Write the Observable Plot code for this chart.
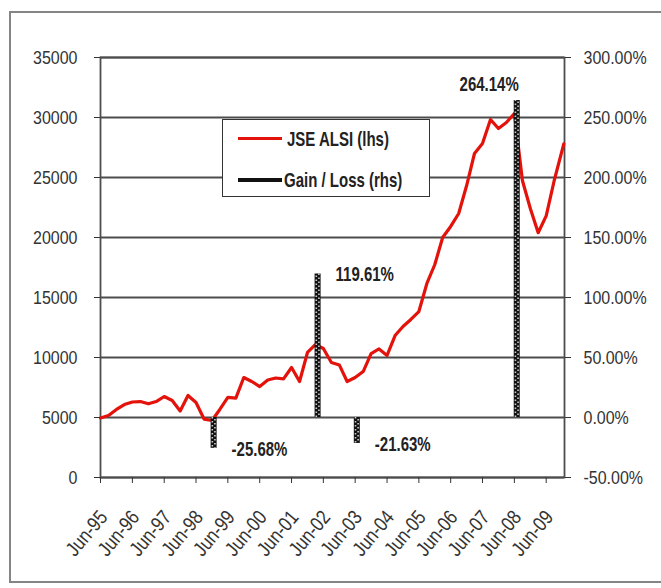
<!DOCTYPE html>
<html><head><meta charset="utf-8">
<script src="https://cdn.jsdelivr.net/npm/d3@7"></script>
<script src="https://cdn.jsdelivr.net/npm/@observablehq/plot@0.6"></script>
<style>
body{margin:0;background:#fff;}
#wrap{position:relative;width:661px;height:588px;overflow:hidden;background:#fff;}
#frame{position:absolute;left:9px;top:11px;width:700px;height:572px;border:2px solid #858585;box-sizing:border-box;}
#chart{position:absolute;left:0;top:0;}
#legend{position:absolute;left:222px;top:119px;width:208px;height:78px;border:1.5px solid #333;background:#fff;box-sizing:border-box;
  font-family:'Liberation Sans',Arial,sans-serif;font-weight:bold;font-size:15px;color:#222;white-space:nowrap;}
.lg{position:absolute;left:15px;display:flex;align-items:center;}
.lg span{display:inline-block;transform:scaleY(1.3);}
.sw{width:44px;height:3px;margin-right:5px;}
</style></head>
<body><div id="wrap"><div id="frame"></div><div id="chart"></div>
<div id="legend">
 <div class="lg" style="top:10px"><div class="sw" style="background:#e3120b"></div><span>JSE ALSI (lhs)</span></div>
 <div class="lg" style="top:51px"><div class="sw" style="background:#111;height:4px;margin-right:2px"></div><span>Gain / Loss (rhs)</span></div>
</div></div>
<script>
const quarterDates = ["1995-06-01","1995-09-01","1995-12-01","1996-03-01","1996-06-01","1996-09-01","1996-12-01","1997-03-01",
"1997-06-01","1997-09-01","1997-12-01","1998-03-01","1998-06-01","1998-09-01","1998-12-01","1999-03-01",
"1999-06-01","1999-09-01","1999-12-01","2000-03-01","2000-06-01","2000-09-01","2000-12-01","2001-03-01",
"2001-06-01","2001-09-01","2001-12-01","2002-03-01","2002-06-01","2002-09-01","2002-12-01","2003-03-01",
"2003-06-01","2003-09-01","2003-12-01","2004-03-01","2004-06-01","2004-09-01","2004-12-01","2005-03-01",
"2005-06-01","2005-09-01","2005-12-01","2006-03-01","2006-06-01","2006-09-01","2006-12-01","2007-03-01",
"2007-06-01","2007-09-01","2007-12-01","2008-03-01","2008-06-01","2008-09-01","2008-12-01","2009-03-01",
"2009-06-01","2009-09-01","2009-12-20"];
const alsiValues = [4960,5170,5670,6080,6290,6330,6140,6330,
6750,6420,5540,6830,6250,4870,4750,5670,
6670,6620,8330,8000,7580,8120,8290,8220,
9170,8000,10420,11080,10750,9580,9380,8000,
8330,8830,10330,10710,10170,11830,12580,13170,
13830,16170,17750,20000,20920,22000,24330,27000,
27830,29830,29080,29580,30330,24750,22420,20400,
21800,24750,27800];
const gainDates = ["1998-12-20","2002-03-27","2003-06-20","2008-06-28"];
const gainPct = [-25.68,119.61,-21.63,264.14];
const gainLabels = ["-25.68%","119.61%","-21.63%","264.14%"];
const leftTicks = [0,5000,10000,15000,20000,25000,30000,35000];
const rightTickLabels = ["-50.00%","0.00%","50.00%","100.00%","150.00%","200.00%","250.00%","300.00%"];
const xTickDates = ["1995-06-01","1996-06-01","1997-06-01","1998-06-01","1999-06-01","2000-06-01","2001-06-01","2002-06-01",
"2003-06-01","2004-06-01","2005-06-01","2006-06-01","2007-06-01","2008-06-01","2009-06-01"];
const xTickLabels = ["Jun-95","Jun-96","Jun-97","Jun-98","Jun-99","Jun-00","Jun-01","Jun-02","Jun-03","Jun-04","Jun-05","Jun-06","Jun-07","Jun-08","Jun-09"];

const series = quarterDates.map((d,i)=>({date:new Date(d), value:alsiValues[i]}));
const gains = gainDates.map((d,i)=>({date:new Date(d), pct:gainPct[i], label:gainLabels[i]}));
const pctToLeft = p => (p + 50) * 100;
const xTicks = xTickDates.map(d=>new Date(d));
const font = "'Liberation Sans',Arial,sans-serif";

const chart = Plot.plot({
  width: 661, height: 588,
  marginTop: 57, marginBottom: 111, marginLeft: 100, marginRight: 97,
  style: {fontFamily: font, fontSize: "16px", color: "#333", background: "transparent"},
  x: {type: "utc", domain: [new Date("1995-06-01"), new Date("2009-12-28")], label: null},
  y: {domain: [0, 35000], label: null},
  marks: [
    Plot.ruleY(leftTicks, {stroke: "#4d4d4d", strokeWidth: 1.8}),
    Plot.frame({stroke: "#4d4d4d", strokeWidth: 1.8}),
    Plot.line(series, {x: "date", y: "value", stroke: "#e3120b", strokeWidth: 3.2}),
    Plot.ruleX(gains, {x: "date", y1: 5000, y2: d => pctToLeft(d.pct), stroke: "#111", strokeWidth: 6}),
    Plot.ruleX(gains, {x: "date", y1: 5000, y2: d => pctToLeft(d.pct), stroke: "#ccc", strokeWidth: 1.6, strokeDasharray: "1.5 2.5", dx: -1.3}),
    Plot.ruleX(gains, {x: "date", y1: 5000, y2: d => pctToLeft(d.pct), stroke: "#ccc", strokeWidth: 1.6, strokeDasharray: "1.5 2.5", strokeDashoffset: 2, dx: 1.3}),
    Plot.text(gains.slice(0,3), {x: "date", y: d => pctToLeft(d.pct), text: "label", textAnchor: "start", dx: 18, dy: 1,
      fontWeight: "bold", fontSize: 15, fill: "#222", className: "tall"}),
    Plot.text(gains.slice(3), {x: "date", y: d => pctToLeft(d.pct), text: "label", textAnchor: "end", dx: 2, dy: -16,
      fontWeight: "bold", fontSize: 15, fill: "#222", className: "tall"}),
    Plot.axisY(leftTicks, {anchor: "left", tickSize: 6, tickPadding: 17, label: null, tickFormat: d => String(d)}),
    Plot.axisY(leftTicks, {anchor: "right", tickSize: 6, tickPadding: 13, label: null, tickFormat: (d,i) => rightTickLabels[i]}),
    Plot.axisX(xTicks, {anchor: "bottom", tickSize: 6, tickPadding: 30, tickRotate: -50, label: null, fontSize: 17, className: "xlab",
      tickFormat: (d,i) => xTickLabels[i]})
  ]
});
document.getElementById("chart").appendChild(chart);
// stretch glyphs vertically, as in the reference picture
chart.querySelectorAll("text").forEach(el => {
  const b = el.getBBox();
  const cx = b.x + b.width / 2, cy = b.y + b.height / 2;
  const isTall = el.closest(".tall") !== null;
  const isX = el.closest(".xlab") !== null;
  const sy = isTall ? 1.3 : 1.2;
  const t = el.getAttribute("transform") || "";
  const shift = isX ? "translate(3,0) " : "";
  el.setAttribute("transform", `${shift}${t} translate(${cx},${cy}) scale(1,${sy}) translate(${-cx},${-cy})`);
});
</script></body></html>
